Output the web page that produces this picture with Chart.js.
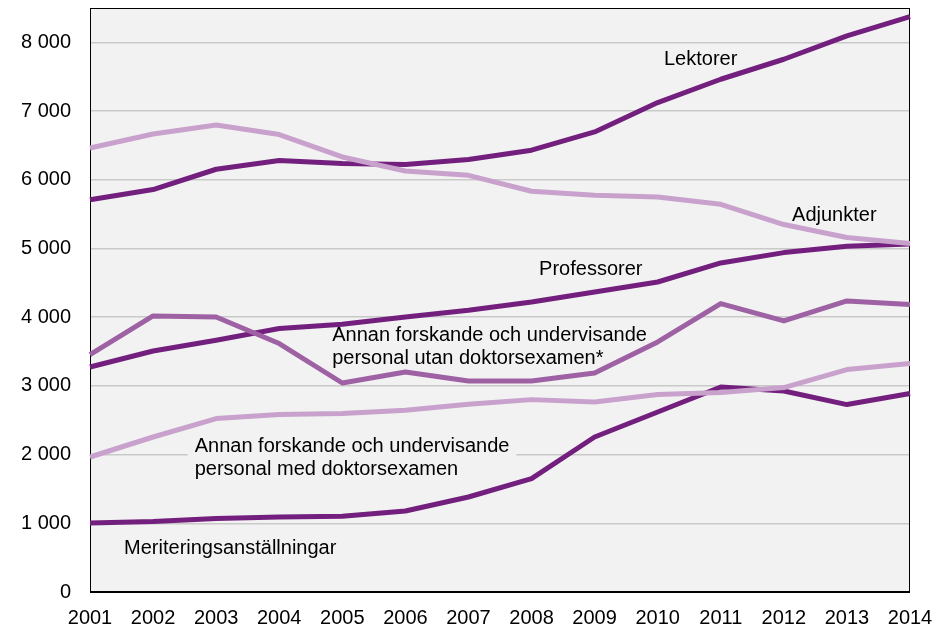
<!DOCTYPE html>
<html>
<head>
<meta charset="utf-8">
<script src="https://cdn.jsdelivr.net/npm/chart.js@4/dist/chart.umd.min.js"></script>
<style>
html,body{margin:0;padding:0;background:#fff;}
#wrap{width:940px;height:628px;position:relative;}
</style>
</head>
<body>
<div id="wrap"><canvas id="c" width="940" height="628"></canvas></div>
<script>
const years = ['2001','2002','2003','2004','2005','2006','2007','2008','2009','2010','2011','2012','2013','2014'];
const lektorer = [5710,5857,6153,6279,6236,6221,6294,6430,6696,7124,7463,7754,8093,8375];
const adjunkter = [6463,6667,6798,6658,6332,6128,6065,5833,5774,5750,5643,5348,5159,5071];
const professorer = [3275,3508,3664,3834,3897,4003,4100,4221,4367,4512,4789,4940,5032,5066];
const annanUtan = [3455,4018,4003,3616,3042,3202,3071,3071,3188,3639,4198,3945,4236,4183];
const annanMed = [1965,2256,2524,2582,2597,2645,2732,2800,2766,2873,2902,2975,3237,3325];
const meritering = [1004,1025,1068,1092,1102,1179,1383,1651,2256,2620,2984,2926,2728,2888];
const yTicks = [0,1000,2000,3000,4000,5000,6000,7000,8000];

// Labels anchored in data coordinates (category index, value)
const labels = [
  {lines:['Lektorer'], x:9.10, y:7754},
  {lines:['Adjunkter'], x:11.13, y:5483},
  {lines:['Professorer'], x:7.12, y:4697},
  {lines:['Annan forskande och undervisande','personal utan doktorsexamen*'], x:3.84, y:3737},
  {lines:['Annan forskande och undervisande','personal med doktorsexamen'], x:1.66, y:2111, box:true},
  {lines:['Meriteringsanställningar'], x:0.54, y:636}
];

const DARK = '#731f7e', MED = '#9e62a4', LIGHT = '#c8a2cc';
const FONT = '"Liberation Sans", Arial, sans-serif';

function fmt(v){ return String(v).replace(/\B(?=(\d{3})+(?!\d))/g, ' '); }

const bgPlugin = {
  id:'bg',
  beforeDraw(chart){
    const {ctx, chartArea:a} = chart;
    ctx.save();
    ctx.fillStyle = '#f2f2f2';
    ctx.fillRect(a.left, a.top, a.right-a.left, a.bottom-a.top);
    ctx.restore();
  },
  beforeDatasetsDraw(chart){
    const {ctx, chartArea:a, scales} = chart;
    ctx.save();
    ctx.font = '20px ' + FONT;
    labels.forEach(l => {
      if (!l.box) return;
      const x = scales.x.getPixelForValue(l.x);
      const y = scales.y.getPixelForValue(l.y);
      let w = 0; l.lines.forEach(t => w = Math.max(w, ctx.measureText(t).width));
      ctx.fillStyle = '#f2f2f2';
      ctx.fillRect(x-7, y-13, w+14, 23*l.lines.length+4);
    });
    ctx.strokeStyle = '#000';
    ctx.lineWidth = 1;
    ctx.strokeRect(a.left+0.5, a.top+0.5, a.right-a.left-1, a.bottom-a.top-1);
    ctx.restore();
  },
  afterDatasetsDraw(chart){
    const {ctx, chartArea:a, scales} = chart;
    ctx.save();
    ctx.beginPath();
    ctx.moveTo(a.left, a.bottom); ctx.lineTo(a.right, a.bottom);
    ctx.strokeStyle = '#000'; ctx.lineWidth = 2; ctx.stroke();
    ctx.font = '20px ' + FONT;
    ctx.fillStyle = '#000';
    ctx.textBaseline = 'middle';
    ctx.textAlign = 'left';
    labels.forEach(l => {
      const x = scales.x.getPixelForValue(l.x);
      const y = scales.y.getPixelForValue(l.y);
      l.lines.forEach((t,i) => ctx.fillText(t, x, y + i*23));
    });
    ctx.restore();
  }
};

function ds(label, data, color){
  return {label, data, borderColor:color, backgroundColor:color, borderWidth:5,
    pointRadius:0, tension:0, fill:false, borderCapStyle:'butt', borderJoinStyle:'round'};
}

new Chart(document.getElementById('c'), {
  type:'line',
  data:{
    labels: years,
    datasets:[
      ds('Annan med', annanMed, LIGHT),
      ds('Adjunkter', adjunkter, LIGHT),
      ds('Annan utan', annanUtan, MED),
      ds('Meriteringsanställningar', meritering, DARK),
      ds('Professorer', professorer, DARK),
      ds('Lektorer', lektorer, DARK)
    ]
  },
  options:{
    responsive:false,
    animation:false,
    devicePixelRatio:1,
    layout:{padding:{left:0, right:30, top:8, bottom:0}},
    plugins:{legend:{display:false}, tooltip:{enabled:false}},
    scales:{
      x:{
        type:'category',
        offset:false,
        grid:{display:false, drawTicks:false},
        border:{display:false},
        ticks:{font:{family:FONT, size:20}, color:'#000', padding:14, maxRotation:0, autoSkip:false},
        afterFit(s){ s.height = 36; s.paddingLeft = 0; s.paddingRight = 0; }
      },
      y:{
        min:0, max:8500,
        grid:{color:'#c9c9c9', lineWidth:1.5, drawTicks:false},
        border:{display:false},
        afterBuildTicks(s){ s.ticks = yTicks.map(v => ({value:v})); },
        ticks:{font:{family:FONT, size:20}, color:'#000', padding:19, callback:v => fmt(v)},
        afterFit(s){ s.width = 90; s.paddingTop = 0; s.paddingBottom = 0; }
      }
    }
  },
  plugins:[bgPlugin]
});
</script>
</body>
</html>
